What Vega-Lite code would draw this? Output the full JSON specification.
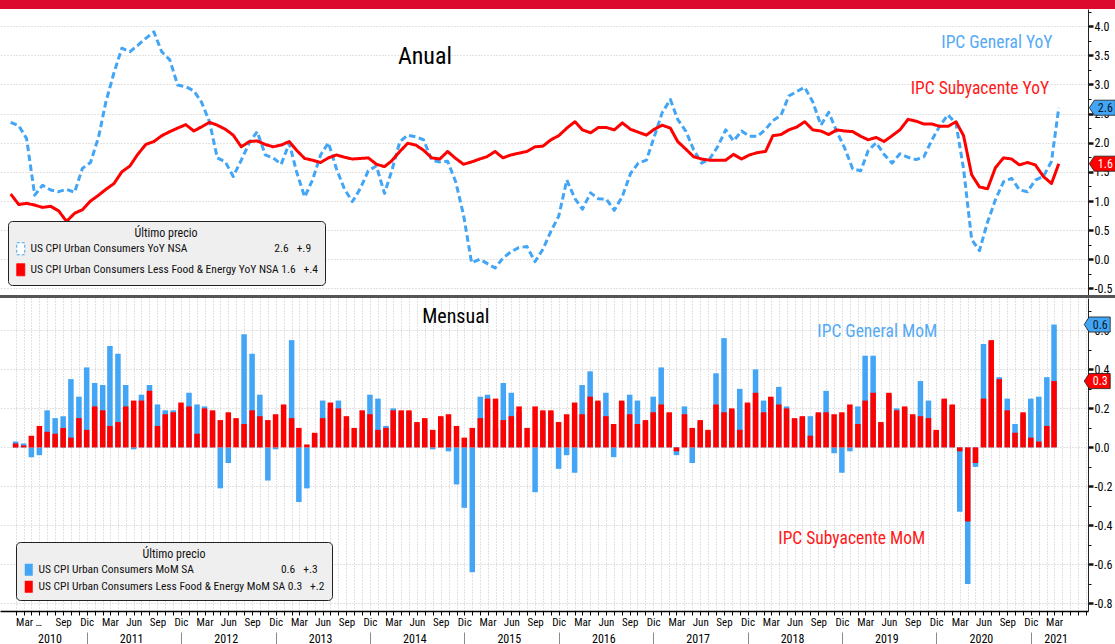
{
  "$schema": "https://vega.github.io/schema/vega-lite/v6.json",
  "padding": 0,
  "background": "white",
  "spacing": 0,
  "bounds": "flush",
  "resolve": {"scale": {"color": "independent"}, "legend": {"color": "independent"}},
  "datasets": {
    "yoy": [
      {"date":"2010-03-01","gen":2.35,"core":1.12},{"date":"2010-04-01","gen":2.29,"core":0.94},{"date":"2010-05-01","gen":2.07,"core":0.96},{"date":"2010-06-01","gen":1.10,"core":0.93},{"date":"2010-07-01","gen":1.27,"core":0.89},{"date":"2010-08-01","gen":1.19,"core":0.91},{"date":"2010-09-01","gen":1.16,"core":0.83},{"date":"2010-10-01","gen":1.20,"core":0.65},{"date":"2010-11-01","gen":1.15,"core":0.79},{"date":"2010-12-01","gen":1.56,"core":0.85},
      {"date":"2011-01-01","gen":1.66,"core":1.00},{"date":"2011-02-01","gen":2.10,"core":1.10},{"date":"2011-03-01","gen":2.70,"core":1.20},{"date":"2011-04-01","gen":3.20,"core":1.30},{"date":"2011-05-01","gen":3.62,"core":1.50},{"date":"2011-06-01","gen":3.56,"core":1.60},{"date":"2011-07-01","gen":3.67,"core":1.80},{"date":"2011-08-01","gen":3.79,"core":1.97},{"date":"2011-09-01","gen":3.90,"core":2.02},{"date":"2011-10-01","gen":3.56,"core":2.12},{"date":"2011-11-01","gen":3.42,"core":2.19},{"date":"2011-12-01","gen":2.99,"core":2.25},
      {"date":"2012-01-01","gen":2.96,"core":2.31},{"date":"2012-02-01","gen":2.89,"core":2.20},{"date":"2012-03-01","gen":2.70,"core":2.27},{"date":"2012-04-01","gen":2.36,"core":2.35},{"date":"2012-05-01","gen":1.74,"core":2.30},{"date":"2012-06-01","gen":1.67,"core":2.23},{"date":"2012-07-01","gen":1.42,"core":2.13},{"date":"2012-08-01","gen":1.70,"core":1.93},{"date":"2012-09-01","gen":2.00,"core":2.02},{"date":"2012-10-01","gen":2.19,"core":2.03},{"date":"2012-11-01","gen":1.79,"core":1.97},{"date":"2012-12-01","gen":1.74,"core":1.93},
      {"date":"2013-01-01","gen":1.63,"core":1.96},{"date":"2013-02-01","gen":1.99,"core":2.02},{"date":"2013-03-01","gen":1.50,"core":1.87},{"date":"2013-04-01","gen":1.07,"core":1.73},{"date":"2013-05-01","gen":1.36,"core":1.70},{"date":"2013-06-01","gen":1.79,"core":1.66},{"date":"2013-07-01","gen":2.00,"core":1.74},{"date":"2013-08-01","gen":1.55,"core":1.79},{"date":"2013-09-01","gen":1.20,"core":1.75},{"date":"2013-10-01","gen":0.99,"core":1.72},{"date":"2013-11-01","gen":1.22,"core":1.73},{"date":"2013-12-01","gen":1.52,"core":1.74},
      {"date":"2014-01-01","gen":1.60,"core":1.63},{"date":"2014-02-01","gen":1.13,"core":1.59},{"date":"2014-03-01","gen":1.52,"core":1.69},{"date":"2014-04-01","gen":2.02,"core":1.85},{"date":"2014-05-01","gen":2.13,"core":1.99},{"date":"2014-06-01","gen":2.10,"core":1.96},{"date":"2014-07-01","gen":2.05,"core":1.87},{"date":"2014-08-01","gen":1.70,"core":1.74},{"date":"2014-09-01","gen":1.67,"core":1.72},{"date":"2014-10-01","gen":1.68,"core":1.85},{"date":"2014-11-01","gen":1.33,"core":1.73},{"date":"2014-12-01","gen":0.76,"core":1.63},
      {"date":"2015-01-01","gen":-0.06,"core":1.67},{"date":"2015-02-01","gen":0.00,"core":1.72},{"date":"2015-03-01","gen":-0.07,"core":1.76},{"date":"2015-04-01","gen":-0.15,"core":1.85},{"date":"2015-05-01","gen":0.02,"core":1.74},{"date":"2015-06-01","gen":0.13,"core":1.79},{"date":"2015-07-01","gen":0.20,"core":1.82},{"date":"2015-08-01","gen":0.22,"core":1.85},{"date":"2015-09-01","gen":-0.04,"core":1.93},{"date":"2015-10-01","gen":0.17,"core":1.94},{"date":"2015-11-01","gen":0.48,"core":2.05},{"date":"2015-12-01","gen":0.74,"core":2.12},
      {"date":"2016-01-01","gen":1.36,"core":2.25},{"date":"2016-02-01","gen":1.04,"core":2.36},{"date":"2016-03-01","gen":0.86,"core":2.22},{"date":"2016-04-01","gen":1.14,"core":2.17},{"date":"2016-05-01","gen":1.04,"core":2.26},{"date":"2016-06-01","gen":1.03,"core":2.26},{"date":"2016-07-01","gen":0.84,"core":2.22},{"date":"2016-08-01","gen":1.08,"core":2.34},{"date":"2016-09-01","gen":1.47,"core":2.23},{"date":"2016-10-01","gen":1.65,"core":2.18},{"date":"2016-11-01","gen":1.70,"core":2.13},{"date":"2016-12-01","gen":2.10,"core":2.23},
      {"date":"2017-01-01","gen":2.52,"core":2.30},{"date":"2017-02-01","gen":2.74,"core":2.25},{"date":"2017-03-01","gen":2.40,"core":2.02},{"date":"2017-04-01","gen":2.20,"core":1.89},{"date":"2017-05-01","gen":1.88,"core":1.76},{"date":"2017-06-01","gen":1.65,"core":1.72},{"date":"2017-07-01","gen":1.72,"core":1.70},{"date":"2017-08-01","gen":1.93,"core":1.70},{"date":"2017-09-01","gen":2.22,"core":1.70},{"date":"2017-10-01","gen":2.03,"core":1.80},{"date":"2017-11-01","gen":2.20,"core":1.72},{"date":"2017-12-01","gen":2.11,"core":1.79},
      {"date":"2018-01-01","gen":2.11,"core":1.83},{"date":"2018-02-01","gen":2.23,"core":1.85},{"date":"2018-03-01","gen":2.38,"core":2.12},{"date":"2018-04-01","gen":2.47,"core":2.14},{"date":"2018-05-01","gen":2.80,"core":2.22},{"date":"2018-06-01","gen":2.88,"core":2.27},{"date":"2018-07-01","gen":2.95,"core":2.36},{"date":"2018-08-01","gen":2.70,"core":2.22},{"date":"2018-09-01","gen":2.30,"core":2.20},{"date":"2018-10-01","gen":2.52,"core":2.14},{"date":"2018-11-01","gen":2.19,"core":2.22},{"date":"2018-12-01","gen":1.91,"core":2.20},
      {"date":"2019-01-01","gen":1.55,"core":2.19},{"date":"2019-02-01","gen":1.52,"core":2.11},{"date":"2019-03-01","gen":1.86,"core":2.05},{"date":"2019-04-01","gen":2.00,"core":2.09},{"date":"2019-05-01","gen":1.80,"core":2.02},{"date":"2019-06-01","gen":1.65,"core":2.12},{"date":"2019-07-01","gen":1.81,"core":2.22},{"date":"2019-08-01","gen":1.75,"core":2.40},{"date":"2019-09-01","gen":1.71,"core":2.37},{"date":"2019-10-01","gen":1.76,"core":2.32},{"date":"2019-11-01","gen":2.05,"core":2.32},{"date":"2019-12-01","gen":2.29,"core":2.28},
      {"date":"2020-01-01","gen":2.48,"core":2.28},{"date":"2020-02-01","gen":2.33,"core":2.36},{"date":"2020-03-01","gen":1.55,"core":2.12},{"date":"2020-04-01","gen":0.34,"core":1.45},{"date":"2020-05-01","gen":0.15,"core":1.24},{"date":"2020-06-01","gen":0.64,"core":1.21},{"date":"2020-07-01","gen":1.02,"core":1.57},{"date":"2020-08-01","gen":1.33,"core":1.74},{"date":"2020-09-01","gen":1.39,"core":1.72},{"date":"2020-10-01","gen":1.19,"core":1.62},{"date":"2020-11-01","gen":1.16,"core":1.66},{"date":"2020-12-01","gen":1.36,"core":1.62},
      {"date":"2021-01-01","gen":1.42,"core":1.42},{"date":"2021-02-01","gen":1.68,"core":1.30},{"date":"2021-03-01","gen":2.60,"core":1.64}
    ],
    "mom": [
      {"date":"2010-03-01","gen":0.03,"core":0.02},{"date":"2010-04-01","gen":0.02,"core":0.01},{"date":"2010-05-01","gen":-0.05,"core":0.06},{"date":"2010-06-01","gen":-0.04,"core":0.11},{"date":"2010-07-01","gen":0.19,"core":0.08},{"date":"2010-08-01","gen":0.15,"core":0.07},{"date":"2010-09-01","gen":0.16,"core":0.10},{"date":"2010-10-01","gen":0.35,"core":0.05},{"date":"2010-11-01","gen":0.26,"core":0.15},{"date":"2010-12-01","gen":0.41,"core":0.09},
      {"date":"2011-01-01","gen":0.33,"core":0.21},{"date":"2011-02-01","gen":0.32,"core":0.19},{"date":"2011-03-01","gen":0.52,"core":0.11},{"date":"2011-04-01","gen":0.48,"core":0.13},{"date":"2011-05-01","gen":0.32,"core":0.21},{"date":"2011-06-01","gen":-0.01,"core":0.24},{"date":"2011-07-01","gen":0.27,"core":0.24},{"date":"2011-08-01","gen":0.32,"core":0.29},{"date":"2011-09-01","gen":0.22,"core":0.11},{"date":"2011-10-01","gen":0.19,"core":0.17},{"date":"2011-11-01","gen":0.19,"core":0.18},{"date":"2011-12-01","gen":0.20,"core":0.23},
      {"date":"2012-01-01","gen":0.28,"core":0.21},{"date":"2012-02-01","gen":0.22,"core":0.07},{"date":"2012-03-01","gen":0.21,"core":0.20},{"date":"2012-04-01","gen":0.18,"core":0.19},{"date":"2012-05-01","gen":-0.21,"core":0.14},{"date":"2012-06-01","gen":-0.08,"core":0.18},{"date":"2012-07-01","gen":0.00,"core":0.15},{"date":"2012-08-01","gen":0.58,"core":0.12},{"date":"2012-09-01","gen":0.48,"core":0.19},{"date":"2012-10-01","gen":0.27,"core":0.16},{"date":"2012-11-01","gen":-0.17,"core":0.14},{"date":"2012-12-01","gen":-0.01,"core":0.17},
      {"date":"2013-01-01","gen":0.00,"core":0.22},{"date":"2013-02-01","gen":0.55,"core":0.15},{"date":"2013-03-01","gen":-0.28,"core":0.10},{"date":"2013-04-01","gen":-0.21,"core":0.015},{"date":"2013-05-01","gen":0.07,"core":0.075},{"date":"2013-06-01","gen":0.24,"core":0.15},{"date":"2013-07-01","gen":0.20,"core":0.23},{"date":"2013-08-01","gen":0.24,"core":0.20},{"date":"2013-09-01","gen":0.10,"core":0.16},{"date":"2013-10-01","gen":0.00,"core":0.10},{"date":"2013-11-01","gen":0.10,"core":0.19},{"date":"2013-12-01","gen":0.27,"core":0.17},
      {"date":"2014-01-01","gen":0.25,"core":0.09},{"date":"2014-02-01","gen":0.11,"core":0.10},{"date":"2014-03-01","gen":0.20,"core":0.19},{"date":"2014-04-01","gen":0.18,"core":0.19},{"date":"2014-05-01","gen":0.18,"core":0.19},{"date":"2014-06-01","gen":0.12,"core":0.13},{"date":"2014-07-01","gen":0.14,"core":0.15},{"date":"2014-08-01","gen":-0.01,"core":0.09},{"date":"2014-09-01","gen":0.15,"core":0.16},{"date":"2014-10-01","gen":-0.02,"core":0.17},{"date":"2014-11-01","gen":-0.19,"core":0.11},{"date":"2014-12-01","gen":-0.31,"core":0.05},
      {"date":"2015-01-01","gen":-0.64,"core":0.10},{"date":"2015-02-01","gen":0.26,"core":0.15},{"date":"2015-03-01","gen":0.27,"core":0.25},{"date":"2015-04-01","gen":0.10,"core":0.25},{"date":"2015-05-01","gen":0.33,"core":0.14},{"date":"2015-06-01","gen":0.28,"core":0.16},{"date":"2015-07-01","gen":0.18,"core":0.21},{"date":"2015-08-01","gen":0.00,"core":0.10},{"date":"2015-09-01","gen":-0.23,"core":0.21},{"date":"2015-10-01","gen":0.18,"core":0.19},{"date":"2015-11-01","gen":0.18,"core":0.19},{"date":"2015-12-01","gen":-0.11,"core":0.13},
      {"date":"2016-01-01","gen":-0.04,"core":0.17},{"date":"2016-02-01","gen":-0.13,"core":0.23},{"date":"2016-03-01","gen":0.32,"core":0.17},{"date":"2016-04-01","gen":0.39,"core":0.26},{"date":"2016-05-01","gen":0.23,"core":0.24},{"date":"2016-06-01","gen":0.28,"core":0.16},{"date":"2016-07-01","gen":-0.05,"core":0.12},{"date":"2016-08-01","gen":0.23,"core":0.24},{"date":"2016-09-01","gen":0.27,"core":0.17},{"date":"2016-10-01","gen":0.24,"core":0.12},{"date":"2016-11-01","gen":0.13,"core":0.14},{"date":"2016-12-01","gen":0.26,"core":0.18},
      {"date":"2017-01-01","gen":0.41,"core":0.22},{"date":"2017-02-01","gen":0.17,"core":0.18},{"date":"2017-03-01","gen":-0.04,"core":-0.02},{"date":"2017-04-01","gen":0.21,"core":0.17},{"date":"2017-05-01","gen":-0.08,"core":0.10},{"date":"2017-06-01","gen":0.13,"core":0.14},{"date":"2017-07-01","gen":0.08,"core":0.09},{"date":"2017-08-01","gen":0.38,"core":0.22},{"date":"2017-09-01","gen":0.56,"core":0.18},{"date":"2017-10-01","gen":0.19,"core":0.20},{"date":"2017-11-01","gen":0.30,"core":0.09},{"date":"2017-12-01","gen":0.22,"core":0.23},
      {"date":"2018-01-01","gen":0.40,"core":0.28},{"date":"2018-02-01","gen":0.24,"core":0.18},{"date":"2018-03-01","gen":0.25,"core":0.26},{"date":"2018-04-01","gen":0.31,"core":0.22},{"date":"2018-05-01","gen":0.21,"core":0.20},{"date":"2018-06-01","gen":0.14,"core":0.15},{"date":"2018-07-01","gen":0.15,"core":0.16},{"date":"2018-08-01","gen":0.16,"core":0.06},{"date":"2018-09-01","gen":0.17,"core":0.18},{"date":"2018-10-01","gen":0.29,"core":0.18},{"date":"2018-11-01","gen":-0.03,"core":0.17},{"date":"2018-12-01","gen":-0.13,"core":0.18},
      {"date":"2019-01-01","gen":-0.02,"core":0.22},{"date":"2019-02-01","gen":0.21,"core":0.12},{"date":"2019-03-01","gen":0.47,"core":0.24},{"date":"2019-04-01","gen":0.47,"core":0.28},{"date":"2019-05-01","gen":0.12,"core":0.13},{"date":"2019-06-01","gen":0.27,"core":0.28},{"date":"2019-07-01","gen":0.20,"core":0.19},{"date":"2019-08-01","gen":0.20,"core":0.21},{"date":"2019-09-01","gen":0.16,"core":0.17},{"date":"2019-10-01","gen":0.34,"core":0.16},{"date":"2019-11-01","gen":0.24,"core":0.15},{"date":"2019-12-01","gen":0.08,"core":0.09},
      {"date":"2020-01-01","gen":0.24,"core":0.25},{"date":"2020-02-01","gen":0.21,"core":0.22},{"date":"2020-03-01","gen":-0.33,"core":-0.02},{"date":"2020-04-01","gen":-0.70,"core":-0.38},{"date":"2020-05-01","gen":-0.10,"core":-0.08},{"date":"2020-06-01","gen":0.53,"core":0.25},{"date":"2020-07-01","gen":0.54,"core":0.55},{"date":"2020-08-01","gen":0.36,"core":0.35},{"date":"2020-09-01","gen":0.25,"core":0.19},{"date":"2020-10-01","gen":0.12,"core":0.075},{"date":"2020-11-01","gen":0.17,"core":0.18},{"date":"2020-12-01","gen":0.25,"core":0.05},
      {"date":"2021-01-01","gen":0.26,"core":0.03},{"date":"2021-02-01","gen":0.36,"core":0.11},{"date":"2021-03-01","gen":0.63,"core":0.34}
    ]
  },
  "vconcat": [
    {
      "width": 1115,
      "height": 9,
      "data": {"values": [{}]},
      "mark": {"type": "rect", "color": "#dc0a2d"},
      "encoding": {}
    },
    {
      "width": 1088,
      "height": 286,
      "data": {"name": "yoy"},
      "transform": [{"fold": ["gen", "core"], "as": ["series", "value"]}],
      "resolve": {"axis": {"y": "independent"}},
      "layer": [
        {
          "mark": {"type": "line", "strokeWidth": 3, "strokeCap": "butt", "strokeJoin": "round"},
          "encoding": {
            "x": {
              "field": "date", "type": "temporal",
              "scale": {"domain": [{"year": 2010, "month": 1, "date": 19}, {"year": 2021, "month": 6, "date": 21}], "nice": false},
              "axis": {
                "orient": "bottom", "title": null, "labels": false, "ticks": false, "domain": false,
                "grid": true, "gridDash": [1, 2], "gridColor": "#c4c4c4", "gridWidth": 1,
                "tickCount": {"interval": "month", "step": 1},
                "gridOpacity": {"condition": {"test": "year(datum.value) == 2010 && month(datum.value) < 2", "value": 0}, "value": 1}
              }
            },
            "y": {
              "field": "value", "type": "quantitative",
              "scale": {"domain": [-0.612, 4.293], "nice": false, "zero": false},
              "axis": {
                "orient": "right", "title": null,
                "values": [-0.5, 0, 0.5, 1, 1.5, 2, 2.5, 3, 3.5, 4],
                "format": ".1f",
                "labelFontSize": 12, "labelPadding": 1, "labelOverlap": false, "labelFlush": false, "labelBound": false, "labelColor": "#000000",
                "domain": true, "domainColor": "#222222",
                "ticks": true, "tickColor": "#111111", "tickSize": 5, "tickWidth": 2.5,
                "grid": true, "gridDash": [1, 2], "gridColor": "#c4c4c4"
              }
            },
            "color": {
              "field": "series", "type": "nominal",
              "scale": {"domain": ["gen", "core"], "range": ["#42a5f5", "#ff0000"]},
              "legend": {
                "orient": "none", "legendX": 8, "legendY": 212,
                "title": "Último precio", "titleAnchor": "middle", "titleFontSize": 12, "titleFontWeight": "normal", "titleColor": "#111111", "titlePadding": 3,
                "labelExpr": "datum.value === 'gen' ? 'US CPI Urban Consumers YoY NSA\u00a0\u00a0\u00a0\u00a0\u00a0\u00a0\u00a0\u00a0\u00a0\u00a0\u00a0\u00a0\u00a0\u00a0\u00a0\u00a0\u00a0\u00a0\u00a0\u00a0\u00a0\u00a0\u00a0\u00a0\u00a0\u00a0\u00a0\u00a0\u00a0\u00a0\u00a0\u00a0\u00a02.6\u00a0\u00a0\u00a0+.9' : 'US CPI Urban Consumers Less Food & Energy YoY NSA\u00a01.6\u00a0\u00a0\u00a0+.4'",
                "labelFontSize": 11.5, "labelColor": "#111111", "labelLimit": 600, "labelOffset": 4,
                "symbolType": "M-1,-1.5H1V1.5H-1Z", "symbolSize": 64, "symbolStrokeWidth": 1,
                "rowPadding": 4, "padding": 7, "fillColor": "#efefef", "strokeColor": "#222222", "cornerRadius": 4,
                "encode": {
                  "symbols": {
                    "update": {
                      "fill": {"signal": "datum.value === 'gen' ? '#ffffff' : '#ff0000'"},
                      "stroke": {"signal": "datum.value === 'gen' ? '#42a5f5' : '#ff0000'"},
                      "strokeDash": {"signal": "datum.value === 'gen' ? [3, 2] : [1, 0]"}
                    }
                  }
                }
              }
            },
            "strokeDash": {
              "field": "series", "type": "nominal",
              "scale": {"domain": ["gen", "core"], "range": [[6.5, 3.5], [1, 0]]},
              "legend": null
            }
          }
        },
        {
          "data": {"values": [{}]},
          "mark": {"type": "text", "text": "Anual", "fontSize": 24, "color": "#000000", "align": "center", "baseline": "middle"},
          "encoding": {
            "x": {"datum": {"year": 2014, "month": 7, "date": 6}, "type": "temporal", "axis": null},
            "y": {"datum": 3.47, "type": "quantitative", "axis": null}
          }
        },
        {
          "data": {"values": [{}]},
          "mark": {"type": "text", "text": "IPC General YoY", "fontSize": 17.5, "color": "#55aaf5", "align": "right", "baseline": "middle"},
          "encoding": {
            "x": {"datum": {"year": 2021, "month": 2, "date": 5}, "type": "temporal", "axis": null},
            "y": {"datum": 3.71, "type": "quantitative", "axis": null}
          }
        },
        {
          "data": {"values": [{}]},
          "mark": {"type": "text", "text": "IPC Subyacente YoY", "fontSize": 17.5, "color": "#ff1a1a", "align": "right", "baseline": "middle"},
          "encoding": {
            "x": {"datum": {"year": 2021, "month": 1, "date": 23}, "type": "temporal", "axis": null},
            "y": {"datum": 2.92, "type": "quantitative", "axis": null}
          }
        },
        {
          "transform": [{"filter": "toDate(datum.date) > toDate('2021-02-15')"}],
          "mark": {"type": "point", "shape": "M-1,0L-0.62,-0.58H1V0.58H-0.62Z", "size": 676, "filled": true, "opacity": 1, "stroke": "#1a1a1a", "strokeWidth": 0.8},
          "encoding": {
            "x": {"datum": {"year": 2021, "month": 8, "date": 15}, "type": "temporal", "axis": null},
            "y": {
              "field": "value", "type": "quantitative",
              "axis": {
                "orient": "right", "title": null,
                "values": [-0.25, 0.25, 0.75, 1.25, 1.75, 2.25, 2.75, 3.25, 3.75, 4.25],
                "labels": false, "domain": false, "grid": false,
                "ticks": true, "tickSize": 3, "tickWidth": 1, "tickColor": "#111111"
              }
            },
            "fill": {"condition": {"test": "datum.series === 'gen'", "value": "#42a5f5"}, "value": "#ff0000"}
          }
        },
        {
          "transform": [{"filter": "toDate(datum.date) > toDate('2021-02-15')"}],
          "mark": {"type": "text", "fontSize": 12, "dx": 3, "align": "center", "baseline": "middle"},
          "encoding": {
            "x": {"datum": {"year": 2021, "month": 8, "date": 15}, "type": "temporal", "axis": null},
            "y": {"field": "value", "type": "quantitative", "axis": null},
            "text": {"field": "value", "type": "quantitative", "format": ".1f"},
            "color": {"condition": {"test": "datum.series === 'gen'", "value": "#0a1a2a"}, "value": "#ffffff"}
          }
        }
      ]
    },
    {
      "width": 1115,
      "height": 3,
      "data": {"values": [{}]},
      "mark": {"type": "rect", "color": "#555555"},
      "encoding": {}
    },
    {
      "width": 1088,
      "height": 313,
      "data": {"name": "mom"},
      "transform": [{"fold": ["gen", "core"], "as": ["series", "value"]}],
      "resolve": {"axis": {"x": "independent", "y": "independent"}},
      "layer": [
        {
          "mark": {"type": "bar", "width": 5.5},
          "encoding": {
            "x": {
              "field": "date", "type": "temporal",
              "scale": {"domain": [{"year": 2010, "month": 1, "date": 19}, {"year": 2021, "month": 6, "date": 21}], "nice": false},
              "axis": {
                "orient": "bottom", "title": null,
                "tickCount": {"interval": "month", "step": 1},
                "labelExpr": "(year(datum.value) == 2021 && month(datum.value) > 2) ? '' : month(datum.value) == 2 ? (year(datum.value) == 2010 ? 'Mar …' : 'Mar') : month(datum.value) == 5 ? (year(datum.value) == 2010 ? '' : 'Jun') : month(datum.value) == 8 ? 'Sep' : month(datum.value) == 11 ? 'Dic' : ''",
                "labelOverlap": false, "labelBound": false, "labelFlush": false,
                "labelAlign": {"condition": {"test": "year(datum.value) == 2010 && month(datum.value) == 2", "value": "left"}, "value": "center"},
                "labelFontSize": 11, "labelPadding": 1, "labelColor": "#000000",
                "tickSize": 4, "tickColor": "#000000", "domainColor": "#000000", "domainWidth": 1.5,
                "tickOpacity": {"condition": {"test": "year(datum.value) == 2010 && month(datum.value) < 2", "value": 0}, "value": 1},
                "grid": true, "gridDash": [1, 2], "gridColor": "#c4c4c4",
                "gridOpacity": {"condition": {"test": "year(datum.value) == 2010 && month(datum.value) < 2", "value": 0}, "value": 1}
              }
            },
            "y": {
              "field": "value", "type": "quantitative", "stack": null,
              "scale": {"domain": [-0.839, 0.766], "nice": false, "zero": false},
              "axis": {
                "orient": "right", "title": null,
                "values": [-0.8, -0.6, -0.4, -0.2, 0, 0.2, 0.4, 0.6],
                "format": ".1f",
                "labelFontSize": 12, "labelPadding": 1, "labelOverlap": false, "labelFlush": false, "labelBound": false, "labelColor": "#000000",
                "domain": true, "domainColor": "#222222",
                "ticks": true, "tickColor": "#111111", "tickSize": 5, "tickWidth": 2.5,
                "grid": true, "gridDash": [1, 2], "gridColor": "#c4c4c4"
              }
            },
            "color": {
              "field": "series", "type": "nominal",
              "scale": {"domain": ["gen", "core"], "range": ["#42a5f5", "#ff0000"]},
              "legend": {
                "orient": "none", "legendX": 16, "legendY": 244,
                "title": "Último precio", "titleAnchor": "middle", "titleFontSize": 12, "titleFontWeight": "normal", "titleColor": "#111111", "titlePadding": 3,
                "labelExpr": "datum.value === 'gen' ? 'US CPI Urban Consumers MoM SA\u00a0\u00a0\u00a0\u00a0\u00a0\u00a0\u00a0\u00a0\u00a0\u00a0\u00a0\u00a0\u00a0\u00a0\u00a0\u00a0\u00a0\u00a0\u00a0\u00a0\u00a0\u00a0\u00a0\u00a0\u00a0\u00a0\u00a0\u00a0\u00a0\u00a0\u00a0\u00a0\u00a00.6\u00a0\u00a0\u00a0+.3' : 'US CPI Urban Consumers Less Food & Energy MoM SA\u00a00.3\u00a0\u00a0\u00a0+.2'",
                "labelFontSize": 11.5, "labelColor": "#111111", "labelLimit": 600, "labelOffset": 4,
                "symbolType": "M-1,-1.5H1V1.5H-1Z", "symbolSize": 64, "symbolStrokeWidth": 0,
                "rowPadding": 4, "padding": 7, "fillColor": "#efefef", "strokeColor": "#222222", "cornerRadius": 4
              }
            }
          }
        },
        {
          "transform": [{"filter": "toDate(datum.date) > toDate('2021-02-15')"}],
          "mark": {"type": "point", "shape": "M-1,0L-0.62,-0.58H1V0.58H-0.62Z", "size": 676, "filled": true, "opacity": 1, "stroke": "#1a1a1a", "strokeWidth": 0.8},
          "encoding": {
            "x": {
              "datum": {"year": 2021, "month": 8, "date": 15}, "type": "temporal",
              "axis": {
                "orient": "bottom", "title": null,
                "values": [{"year": 2010, "month": 7, "date": 10}, {"year": 2011, "month": 5, "date": 22}, {"year": 2012, "month": 5, "date": 22}, {"year": 2013, "month": 5, "date": 22}, {"year": 2014, "month": 5, "date": 22}, {"year": 2015, "month": 5, "date": 22}, {"year": 2016, "month": 5, "date": 22}, {"year": 2017, "month": 5, "date": 22}, {"year": 2018, "month": 5, "date": 22}, {"year": 2019, "month": 5, "date": 22}, {"year": 2020, "month": 5, "date": 22}, {"year": 2021, "month": 3, "date": 7}],
                "labelExpr": "timeFormat(datum.value, '%Y')",
                "ticks": false, "domain": false, "grid": false,
                "labelPadding": 22, "labelFontSize": 12, "labelColor": "#000000",
                "labelOverlap": false, "labelBound": false, "labelFlush": false
              }
            },
            "y": {
              "field": "value", "type": "quantitative",
              "axis": {
                "orient": "right", "title": null,
                "values": [-0.7, -0.5, -0.3, -0.1, 0.1, 0.3, 0.5, 0.7],
                "labels": false, "domain": false, "grid": false,
                "ticks": true, "tickSize": 3, "tickWidth": 1, "tickColor": "#111111"
              }
            },
            "fill": {"condition": {"test": "datum.series === 'gen'", "value": "#42a5f5"}, "value": "#ff0000"}
          }
        },
        {
          "transform": [{"filter": "toDate(datum.date) > toDate('2021-02-15')"}],
          "mark": {"type": "text", "fontSize": 12, "dx": 3, "align": "center", "baseline": "middle"},
          "encoding": {
            "x": {
              "datum": {"year": 2021, "month": 8, "date": 15}, "type": "temporal",
              "axis": {
                "orient": "bottom", "title": null, "offset": 21,
                "values": [{"year": 2010, "month": 12, "date": 1}, {"year": 2011, "month": 12, "date": 1}, {"year": 2012, "month": 12, "date": 1}, {"year": 2013, "month": 12, "date": 1}, {"year": 2014, "month": 12, "date": 1}, {"year": 2015, "month": 12, "date": 1}, {"year": 2016, "month": 12, "date": 1}, {"year": 2017, "month": 12, "date": 1}, {"year": 2018, "month": 12, "date": 1}, {"year": 2019, "month": 12, "date": 1}, {"year": 2020, "month": 12, "date": 1}],
                "labels": false, "domain": false, "grid": false,
                "ticks": true, "tickSize": 13, "tickColor": "#8a8a8a", "tickWidth": 1
              }
            },
            "y": {"field": "value", "type": "quantitative", "axis": null},
            "text": {"field": "value", "type": "quantitative", "format": ".1f"},
            "color": {"condition": {"test": "datum.series === 'gen'", "value": "#0a1a2a"}, "value": "#ffffff"}
          }
        },
        {
          "data": {"values": [{}]},
          "mark": {"type": "text", "text": "Mensual", "fontSize": 20, "color": "#000000", "align": "center", "baseline": "middle"},
          "encoding": {
            "x": {"datum": {"year": 2014, "month": 10, "date": 29}, "type": "temporal", "axis": null},
            "y": {"datum": 0.67, "type": "quantitative", "axis": null}
          }
        },
        {
          "data": {"values": [{}]},
          "mark": {"type": "text", "text": "IPC General MoM", "fontSize": 17.5, "color": "#55aaf5", "align": "left", "baseline": "middle"},
          "encoding": {
            "x": {"datum": {"year": 2018, "month": 8, "date": 28}, "type": "temporal", "axis": null},
            "y": {"datum": 0.59, "type": "quantitative", "axis": null}
          }
        },
        {
          "data": {"values": [{}]},
          "mark": {"type": "text", "text": "IPC Subyacente MoM", "fontSize": 17.5, "color": "#ff1a1a", "align": "left", "baseline": "middle"},
          "encoding": {
            "x": {"datum": {"year": 2018, "month": 3, "date": 30}, "type": "temporal", "axis": null},
            "y": {"datum": -0.472, "type": "quantitative", "axis": null}
          }
        }
      ]
    }
  ],
  "config": {
    "font": "Liberation Sans Narrow, Arial Narrow, Roboto Condensed, Liberation Sans, sans-serif",
    "view": {"stroke": null},
    "axis": {"labelFont": "Liberation Sans Narrow, Arial Narrow, Roboto Condensed, Liberation Sans, sans-serif"},
    "legend": {"labelFont": "Liberation Sans Narrow, Arial Narrow, Roboto Condensed, Liberation Sans, sans-serif", "titleFont": "Liberation Sans Narrow, Arial Narrow, Roboto Condensed, Liberation Sans, sans-serif"},
    "text": {"font": "Liberation Sans Narrow, Arial Narrow, Roboto Condensed, Liberation Sans, sans-serif"},
    "locale": {"number": {"decimal": ".", "thousands": ",", "grouping": [3], "currency": ["$", ""], "minus": "-"}}
  }
}
